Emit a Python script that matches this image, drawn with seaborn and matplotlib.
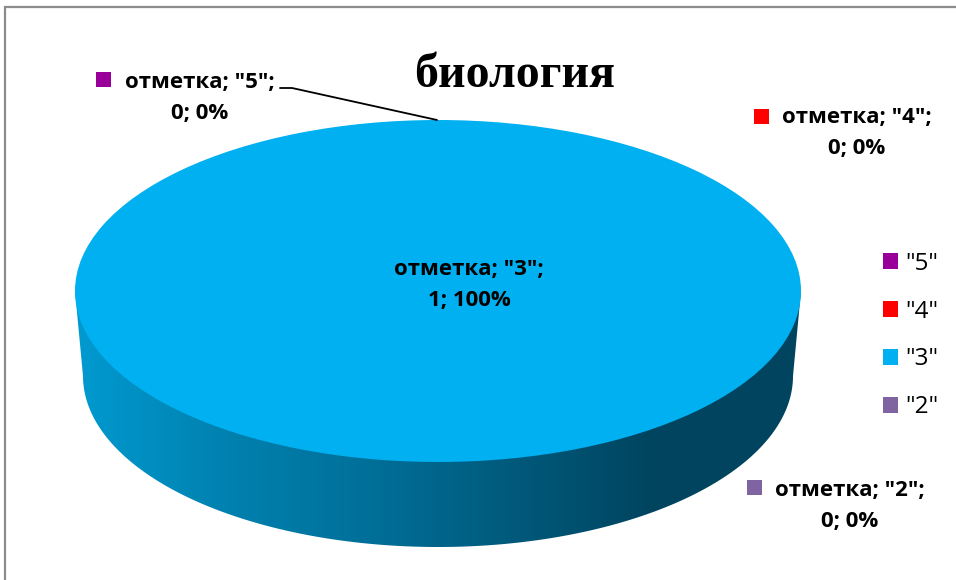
import matplotlib
matplotlib.use('Agg')
import matplotlib.pyplot as plt
from matplotlib.colors import LinearSegmentedColormap
from matplotlib.patches import Polygon
import numpy as np
import seaborn as sns

title = 'биология'
categories = ['"5"', '"4"', '"3"', '"2"']
values = [0, 0, 1, 0]
colors = ['#990099', '#ff0000', '#00b0f0', '#8064a2']
series_name = 'отметка'

# where each data label goes, in pixels of the 956x580 picture
label_pos = {'"5"': (200, 98), '"4"': (857, 133), '"3"': (469, 285), '"2"': (850, 506)}
marker_pos = {'"5"': (103, 79), '"4"': (761, 116), '"3"': (373, 265), '"2"': (754, 487)}

W, H = 956, 580

sns.set_theme(style='white')
plt.rcParams['font.family'] = ['Open Sans', 'DejaVu Sans']

fig = plt.figure(figsize=(W / 100, H / 100), dpi=100)
ax = fig.add_axes([0, 0, 1, 1])
ax.set_xlim(0, W)
ax.set_ylim(H, 0)
ax.axis('off')

# chart frame, only top and left show up in the crop
ax.plot([5, 5, W], [H, 7, 7], color='#8c8c8c', lw=1.6, solid_joinstyle='miter')

# side wall of the 3d pie
t = np.linspace(0, np.pi, 200)
wall_x = np.r_[438 + 355 * np.cos(t), 75, 801]
wall_y = np.r_[376 + 171 * np.sin(t), 291, 291]
wall = Polygon(np.c_[wall_x, wall_y], closed=True, transform=ax.transData, fc='none', ec='none')
ax.add_patch(wall)
shade = LinearSegmentedColormap.from_list('wall', ['#009ad0', '#0082b0', '#00709a', '#005a7c', '#00445f', '#00445f'])
img = ax.imshow(np.linspace(0, 1, 256)[None, :], cmap=shade, aspect='auto',
                extent=(75, 801, 560, 280), zorder=1)
img.set_clip_path(wall)
ax.set_xlim(0, W)
ax.set_ylim(H, 0)

# top of the pie, stretched to an ellipse by its own axes
pie_ax = fig.add_axes([75 / W, 1 - 462 / H, 726 / W, 342 / H], zorder=2)
wedges, _ = pie_ax.pie(values, colors=colors, startangle=90, counterclock=False,
                       radius=1, wedgeprops={'linewidth': 0})
pie_ax.set_aspect('auto')
pie_ax.set_xlim(-1, 1)
pie_ax.set_ylim(-1, 1)
pie_ax.axis('off')

# overlay for text, above the pie
top = fig.add_axes([0, 0, 1, 1], zorder=3)
top.set_xlim(0, W)
top.set_ylim(H, 0)
top.axis('off')

top.text(515, 75, title, family='Liberation Serif', fontweight='bold', fontsize=34.5,
         color='black', ha='center', va='center')

total = sum(values)
for cat, val, col in zip(categories, values, colors):
    pct = round(100 * val / total)
    x, y = label_pos[cat]
    top.text(x, y, f'{series_name}; {cat};\n{val}; {pct}%', ha='center', va='center',
             fontsize=16, fontweight='bold', color='black', linespacing=1.62)
    mx, my = marker_pos[cat]
    top.plot(mx, my, marker='s', ms=10.8, color=col, mew=0, ls='none')

# leader line of the "5" label
top.plot([280, 292, 437], [88, 88, 120], color='black', lw=1.3)

handles = [plt.Rectangle((0, 0), 1, 1, fc=c, ec='none') for c in colors]
top.legend(handles, categories, loc='center left', bbox_to_anchor=(883 / W, 1 - 335.5 / H),
           frameon=False, fontsize=17.5, labelcolor='black', handlelength=0.62, handleheight=0.62,
           handletextpad=0.28, labelspacing=0.98, borderpad=0, borderaxespad=0)

fig.savefig('out.png', dpi=100)
